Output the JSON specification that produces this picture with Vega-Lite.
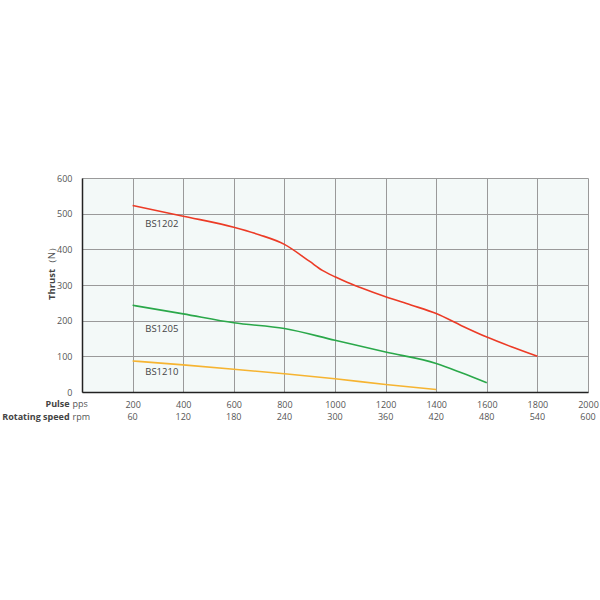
{
  "$schema": "https://vega.github.io/schema/vega-lite/v6.json",
  "autosize": {"type": "none"},
  "width": 506,
  "height": 214,
  "padding": {"left": 82, "top": 178, "right": 12, "bottom": 208},
  "background": "white",
  "config": {
    "view": {"stroke": null, "fill": "#f3f9f8"},
    "font": "Open Sans",
    "axis": {
      "title": null,
      "labelOverlap": false,
      "labelFlush": false,
      "grid": true, "gridColor": "#9a9a9a", "gridWidth": 1, "gridOpacity": 1,
      "domainColor": "#222222", "domainWidth": 1.5,
      "ticks": false,
      "labelFontSize": 9,
      "labelColor": "#555555",
      "labelFont": "Open Sans"
    },
    "axisX": {"tickCount": 10, "labelPadding": 8},
    "axisY": {"tickCount": 7, "labelPadding": 10}
  },
  "datasets": {
    "curves": [
      {"series": "BS1202", "pps": 200, "thrust": 523},
      {"series": "BS1202", "pps": 400, "thrust": 493},
      {"series": "BS1202", "pps": 600, "thrust": 462},
      {"series": "BS1202", "pps": 700, "thrust": 441},
      {"series": "BS1202", "pps": 800, "thrust": 414},
      {"series": "BS1202", "pps": 900, "thrust": 366},
      {"series": "BS1202", "pps": 950, "thrust": 341},
      {"series": "BS1202", "pps": 1000, "thrust": 323},
      {"series": "BS1202", "pps": 1050, "thrust": 307},
      {"series": "BS1202", "pps": 1100, "thrust": 293},
      {"series": "BS1202", "pps": 1200, "thrust": 267},
      {"series": "BS1202", "pps": 1300, "thrust": 244},
      {"series": "BS1202", "pps": 1400, "thrust": 220},
      {"series": "BS1202", "pps": 1500, "thrust": 186},
      {"series": "BS1202", "pps": 1600, "thrust": 154},
      {"series": "BS1202", "pps": 1700, "thrust": 126},
      {"series": "BS1202", "pps": 1800, "thrust": 100},
      {"series": "BS1205", "pps": 200, "thrust": 243},
      {"series": "BS1205", "pps": 400, "thrust": 219},
      {"series": "BS1205", "pps": 600, "thrust": 194},
      {"series": "BS1205", "pps": 800, "thrust": 178},
      {"series": "BS1205", "pps": 1000, "thrust": 145},
      {"series": "BS1205", "pps": 1200, "thrust": 112},
      {"series": "BS1205", "pps": 1400, "thrust": 80},
      {"series": "BS1205", "pps": 1500, "thrust": 54},
      {"series": "BS1205", "pps": 1600, "thrust": 26},
      {"series": "BS1210", "pps": 200, "thrust": 87},
      {"series": "BS1210", "pps": 400, "thrust": 76},
      {"series": "BS1210", "pps": 600, "thrust": 64},
      {"series": "BS1210", "pps": 800, "thrust": 51},
      {"series": "BS1210", "pps": 1000, "thrust": 37},
      {"series": "BS1210", "pps": 1200, "thrust": 21},
      {"series": "BS1210", "pps": 1400, "thrust": 7}
    ],
    "labels": [
      {"series": "BS1202", "pps": 250, "thrust": 472},
      {"series": "BS1205", "pps": 250, "thrust": 178},
      {"series": "BS1210", "pps": 250, "thrust": 55}
    ],
    "rpm": [
      {"pps": 200, "rpm": "60"},
      {"pps": 400, "rpm": "120"},
      {"pps": 600, "rpm": "180"},
      {"pps": 800, "rpm": "240"},
      {"pps": 1000, "rpm": "300"},
      {"pps": 1200, "rpm": "360"},
      {"pps": 1400, "rpm": "420"},
      {"pps": 1600, "rpm": "480"},
      {"pps": 1800, "rpm": "540"},
      {"pps": 2000, "rpm": "600"}
    ]
  },
  "layer": [
    {
      "data": {"name": "curves"},
      "mark": {"type": "line", "interpolate": "monotone", "strokeWidth": 1.6, "clip": false},
      "encoding": {
        "x": {
          "field": "pps", "type": "quantitative",
          "scale": {"domain": [0, 2000], "nice": false},
          "axis": {"labelExpr": "datum.value == 0 ? '' : datum.label", "format": "d"}
        },
        "y": {
          "field": "thrust", "type": "quantitative",
          "scale": {"domain": [0, 600], "nice": false}
        },
        "color": {
          "field": "series", "type": "nominal",
          "scale": {"domain": ["BS1202", "BS1205", "BS1210"], "range": ["#ec3b26", "#2aa84a", "#f6b431"]},
          "legend": null
        }
      }
    },
    {
      "data": {"name": "labels"},
      "mark": {"type": "text", "align": "left", "baseline": "middle", "fontSize": 9.5, "color": "#444444", "font": "Open Sans"},
      "encoding": {
        "x": {"field": "pps", "type": "quantitative"},
        "y": {"field": "thrust", "type": "quantitative"},
        "text": {"field": "series"}
      }
    },
    {
      "data": {"name": "rpm"},
      "mark": {"type": "text", "align": "center", "baseline": "middle", "fontSize": 9, "color": "#555555", "font": "Open Sans", "clip": false},
      "encoding": {
        "x": {"field": "pps", "type": "quantitative"},
        "y": {"datum": -71, "type": "quantitative"},
        "text": {"field": "rpm"}
      }
    },
    {
      "data": {"values": [{"bold": "Pulse", "unit": "pps"}]},
      "encoding": {
        "x": {"datum": -49, "type": "quantitative"},
        "y": {"datum": -34, "type": "quantitative"}
      },
      "layer": [
        {
          "mark": {"type": "text", "align": "right", "baseline": "middle", "fontSize": 9, "fontWeight": "bold", "color": "#444444", "font": "Open Sans"},
          "encoding": {"text": {"field": "bold"}}
        },
        {
          "mark": {"type": "text", "align": "left", "baseline": "middle", "fontSize": 9, "color": "#555555", "font": "Open Sans", "dx": 3},
          "encoding": {"text": {"field": "unit"}}
        }
      ]
    },
    {
      "data": {"values": [{"bold": "Rotating speed", "unit": "rpm"}]},
      "encoding": {
        "x": {"datum": -49, "type": "quantitative"},
        "y": {"datum": -71, "type": "quantitative"}
      },
      "layer": [
        {
          "mark": {"type": "text", "align": "right", "baseline": "middle", "fontSize": 9, "fontWeight": "bold", "color": "#444444", "font": "Open Sans"},
          "encoding": {"text": {"field": "bold"}}
        },
        {
          "mark": {"type": "text", "align": "left", "baseline": "middle", "fontSize": 9, "color": "#555555", "font": "Open Sans", "dx": 3},
          "encoding": {"text": {"field": "unit"}}
        }
      ]
    },
    {
      "data": {"values": [{"bold": "Thrust", "unit": "（N）"}]},
      "encoding": {
        "x": {"datum": -120, "type": "quantitative"},
        "y": {"datum": 345, "type": "quantitative"}
      },
      "layer": [
        {
          "mark": {"type": "text", "align": "right", "baseline": "middle", "angle": 270, "fontSize": 9.5, "fontWeight": "bold", "color": "#444444", "font": "Open Sans"},
          "encoding": {"text": {"field": "bold"}}
        },
        {
          "mark": {"type": "text", "align": "left", "baseline": "middle", "angle": 270, "fontSize": 9, "color": "#555555", "font": "Open Sans", "dx": 1},
          "encoding": {"text": {"field": "unit"}}
        }
      ]
    }
  ]
}
